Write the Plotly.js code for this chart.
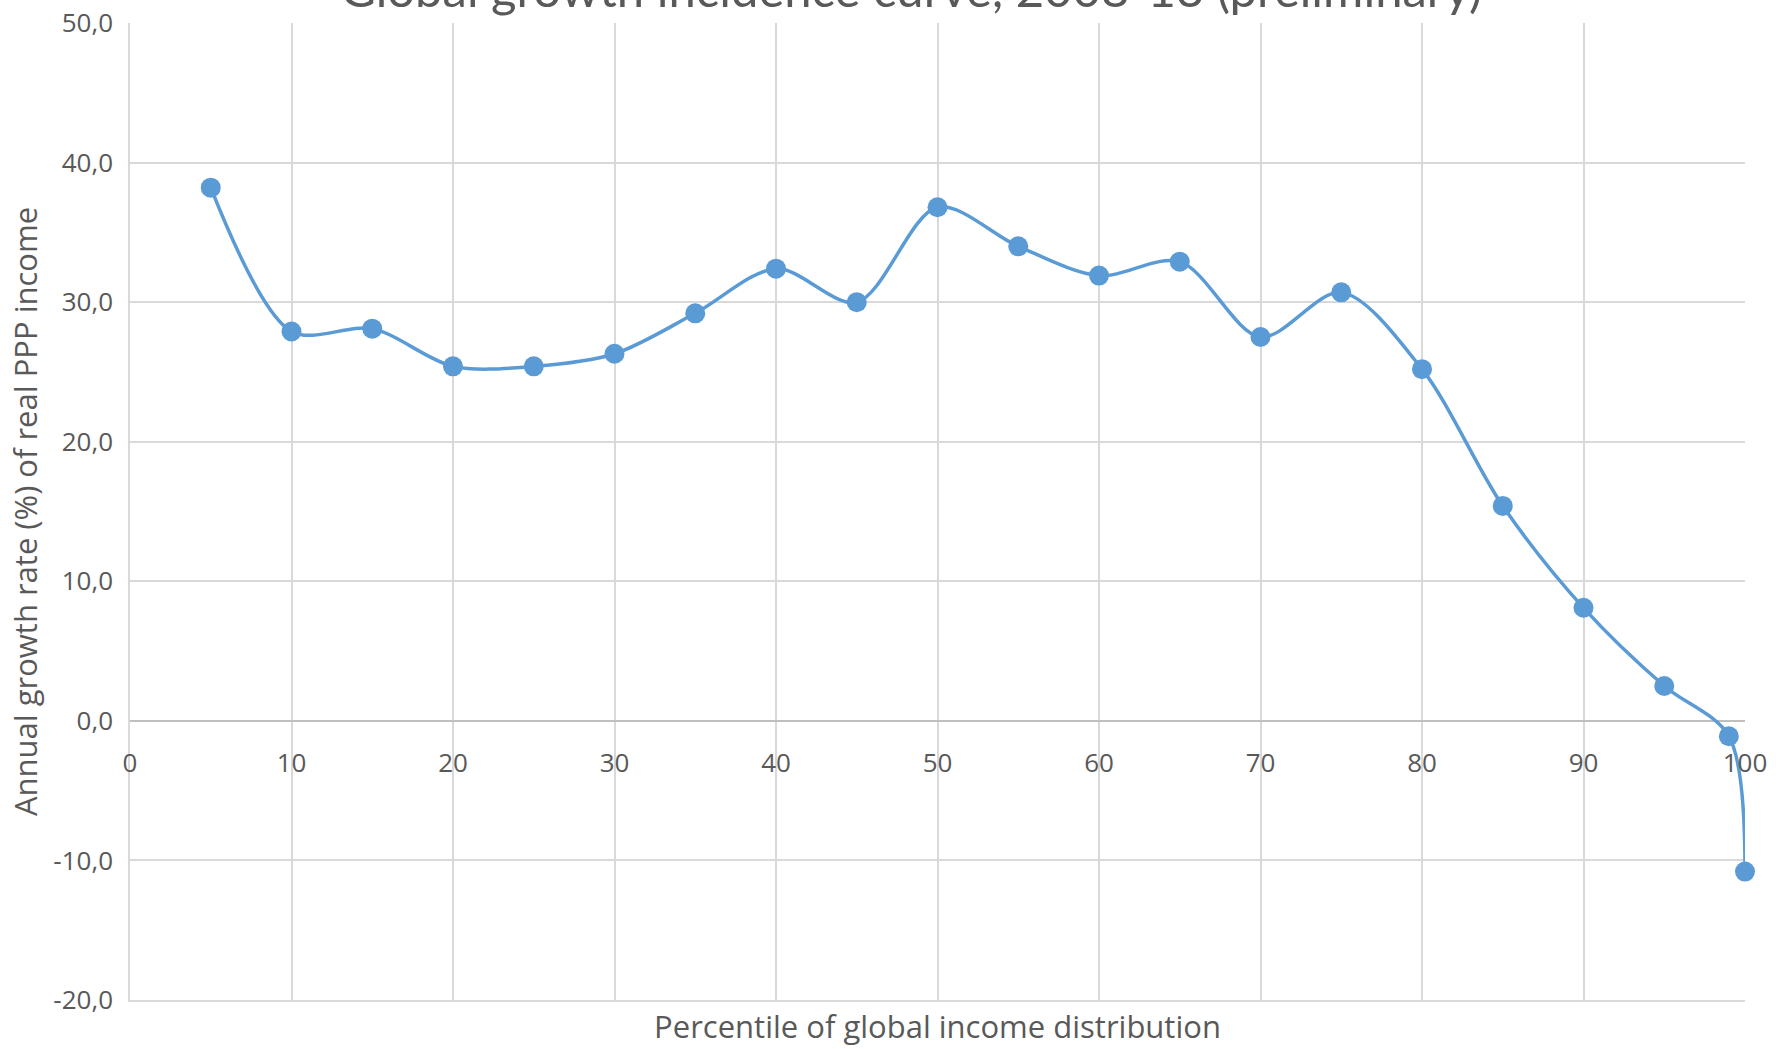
<!DOCTYPE html>
<html>
<head>
<meta charset="utf-8">
<script src="https://cdn.plot.ly/plotly-3.0.1.min.js"></script>
<style>html,body{margin:0;padding:0;background:#fff;}#chart{width:1776px;height:1049px;}</style>
</head>
<body>
<div id="chart"></div>
<script>
const percentiles = [5, 10, 15, 20, 25, 30, 35, 40, 45, 50, 55, 60, 65, 70, 75, 80, 85, 90, 95, 99, 100];
const growthRates = [38.2, 27.9, 28.1, 25.4, 25.4, 26.3, 29.2, 32.4, 30.0, 36.8, 34.0, 31.9, 32.9, 27.5, 30.7, 25.2, 15.4, 8.1, 2.5, -1.1, -10.8];
const xTicks = [0, 10, 20, 30, 40, 50, 60, 70, 80, 90, 100];
const yTicks = [-20, -10, 0, 10, 20, 30, 40, 50];
const yTickText = ["-20,0", "-10,0", "0,0", "10,0", "20,0", "30,0", "40,0", "50,0"];
const chartTitle = "Global growth incidence curve, 2008-13 (preliminary)";
const xTitle = "Percentile of global income distribution";
const yTitle = "Annual growth rate (%) of real PPP income";

const yMin = -20, yMax = 50;
const zeroPos = (0 - yMin) / (yMax - yMin);

const trace = {
  x: percentiles,
  y: growthRates,
  type: 'scatter',
  mode: 'lines+markers',
  line: {color: '#5B9BD5', width: 3.5, shape: 'spline', smoothing: 0.9},
  marker: {color: '#5B9BD5', size: 20},
  cliponaxis: false,
  showlegend: false,
  hoverinfo: 'x+y'
};

const layout = {
  width: 1776,
  height: 1049,
  paper_bgcolor: '#ffffff',
  plot_bgcolor: '#ffffff',
  separators: ',.',
  margin: {l: 130, r: 31, t: 23, b: 49},
  font: {family: 'Open Sans, sans-serif', color: '#595959'},
  title: {
    text: chartTitle,
    font: {family: 'Lato, sans-serif', size: 49, color: '#595959'},
    x: 0.513, xanchor: 'center',
    yref: 'container', y: 0.993, yanchor: 'bottom'
  },
  xaxis: {
    range: [0, 100],
    tickvals: xTicks,
    showticklabels: false,
    showgrid: true, gridcolor: '#d9d9d9', gridwidth: 1.5,
    zeroline: false,
    showline: true, linecolor: '#d9d9d9', linewidth: 1.5, mirror: false,
    ticks: '',
    title: {text: xTitle, font: {family: 'Open Sans, sans-serif', size: 31, color: '#595959'}, standoff: 16}
  },
  xaxis2: {
    range: [0, 100],
    overlaying: 'x',
    anchor: 'free',
    position: zeroPos,
    side: 'bottom',
    tickvals: xTicks,
    ticktext: xTicks.map(String),
    showgrid: false, zeroline: false, showline: false,
    ticks: '',
    tickfont: {family: 'Open Sans, sans-serif', size: 26, color: '#595959'},
    ticklabelstandoff: 24
  },
  yaxis: {
    range: [yMin, yMax],
    tickvals: yTicks,
    ticktext: yTickText,
    showgrid: true, gridcolor: '#d9d9d9', gridwidth: 1.5,
    zeroline: true, zerolinecolor: '#bfbfbf', zerolinewidth: 2,
    showline: true, linecolor: '#d9d9d9', linewidth: 1.5,
    ticks: '',
    tickfont: {family: 'Open Sans, sans-serif', size: 26, color: '#595959'},
    ticklabelstandoff: 10,
    title: {text: yTitle, font: {family: 'Open Sans, sans-serif', size: 31, color: '#595959'}, standoff: 6}
  }
};

const trace2 = {x: [0, 100], y: [null, null], xaxis: 'x2', yaxis: 'y', type: 'scatter', mode: 'lines', showlegend: false, hoverinfo: 'skip'};

Plotly.newPlot('chart', [trace, trace2], layout, {displayModeBar: false});
</script>
</body>
</html>
